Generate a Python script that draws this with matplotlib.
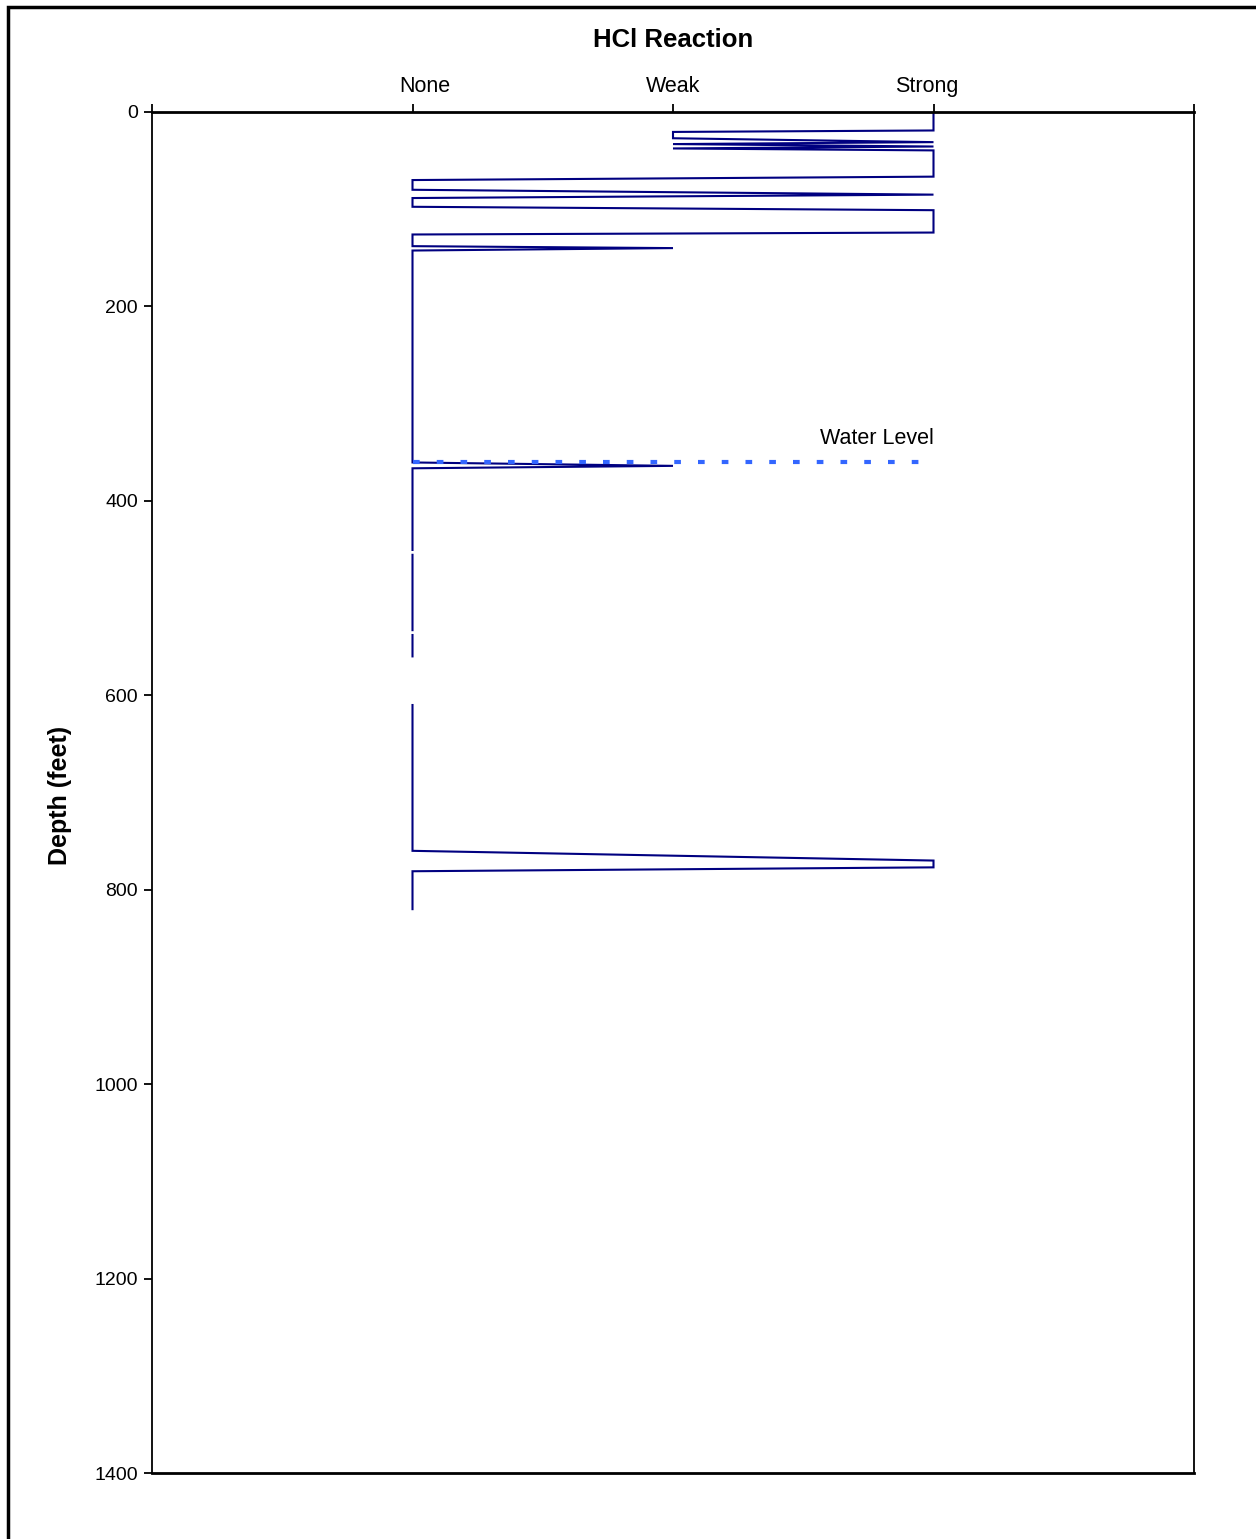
import numpy as np
import matplotlib
matplotlib.use("Agg")
import matplotlib.pyplot as plt
from matplotlib.patches import Rectangle
import matplotlib.transforms as mtransforms

plt.rcParams['font.family'] = ['Liberation Sans', 'DejaVu Sans']

# Data: HCl reaction code (1=None, 2=Weak, 3=Strong) versus depth (feet); NaN = gap
depth = [0, 19, 20.5, 27, 31, 33, 35.5, 37.5, 39.5, 66.5, 70, 80, 85, 88.5, 97.5,
         101, 124, 126, 138, 140, 142.5, 360.5, 364, 366.5, 450.5, np.nan, 455.5,
         533, np.nan, 538, 560, np.nan, 610, 760, 770, 777, 781, 820]
reaction = [3, 3, 2, 2, 3, 2, 3, 2, 3, 3, 1, 1, 3, 1, 1,
            3, 3, 1, 1, 2, 1, 1, 2, 1, 1, np.nan, 1,
            1, np.nan, 1, 1, np.nan, 1, 1, 3, 3, 1, 1]
categories = ["None", "Weak", "Strong"]
category_pos = [1, 2, 3]
water_level_depth = 360
water_level_x = [1, 3]
yticks = [0, 200, 400, 600, 800, 1000, 1200, 1400]

W, H = 1256, 1539
fig = plt.figure(figsize=(W / 100, H / 100), dpi=100)
ax = fig.add_axes([152 / W, 1 - 1473 / H, (1194 - 152) / W, (1473 - 112) / H])

ax.plot(reaction, depth, color='#000080', lw=1.5, solid_joinstyle='miter')
ax.plot(water_level_x, [water_level_depth] * 2, color='#3366FF', lw=3.0,
        linestyle=(0, (1.6, 4.1)), dash_capstyle='butt')
ax.text(3, water_level_depth - 13, "Water Level", ha='right', va='bottom', fontsize=15.5)

ax.set_xlim(0, 4)
ax.set_ylim(1400, 0)
ax.xaxis.tick_top()
ax.set_xticks([0] + category_pos + [4])
ax.set_xticklabels([""] + categories + [""], fontsize=15.5)
ax.set_yticks(yticks)
ax.set_yticklabels([str(v) for v in yticks], fontsize=14)
ax.tick_params(axis='both', direction='out', length=6, width=1.3, color='black', pad=4)
ax.tick_params(axis='x', pad=5)

# small Excel-like label offsets
offsets = {"None": 12, "Weak": 0, "Strong": -7}
for lab in ax.get_xticklabels():
    dx = offsets.get(lab.get_text(), 0)
    lab.set_transform(lab.get_transform() + mtransforms.Affine2D().translate(dx, 0))

for s in ['top', 'bottom']:
    ax.spines[s].set_linewidth(2.0)
for s in ['left', 'right']:
    ax.spines[s].set_linewidth(1.3)

fig.text(673 / W, 1 - 40 / H, "HCl Reaction", fontsize=18.5, fontweight='bold',
         ha='center', va='center')
fig.text(60 / W, 1 - 795 / H, "Depth (feet)", fontsize=18, fontweight='bold',
         ha='center', va='center', rotation=90)

# outer chart frame
fig.patches.append(Rectangle((8 / W, -0.1), 1.2, 1.1 - 7 / H, transform=fig.transFigure,
                             fill=False, edgecolor='black', lw=2.5, clip_on=False))

fig.savefig("out.png", dpi=100, facecolor='white')
